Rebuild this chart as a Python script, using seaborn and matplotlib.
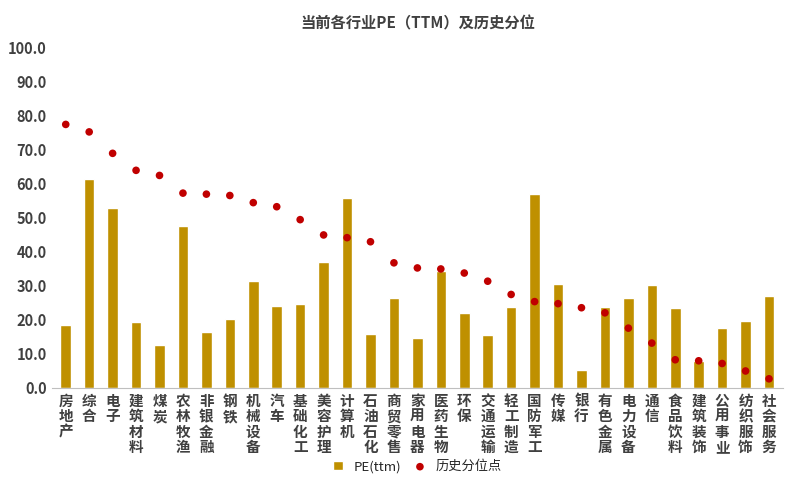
import matplotlib
matplotlib.use("Agg")
import matplotlib.pyplot as plt
import seaborn as sns
import pandas as pd

industries = ["房地产", "综合", "电子", "建筑材料", "煤炭", "农林牧渔", "非银金融", "钢铁",
              "机械设备", "汽车", "基础化工", "美容护理", "计算机", "石油石化", "商贸零售",
              "家用电器", "医药生物", "环保", "交通运输", "轻工制造", "国防军工", "传媒",
              "银行", "有色金属", "电力设备", "通信", "食品饮料", "建筑装饰", "公用事业",
              "纺织服饰", "社会服务"]
pe_ttm = [18.5, 61.5, 53.0, 19.3, 12.5, 47.7, 16.6, 20.2, 31.4, 24.0, 24.7, 37.0, 56.0,
          16.0, 26.5, 14.8, 34.3, 22.1, 15.7, 23.8, 57.0, 30.7, 5.3, 23.7, 26.4, 30.2,
          23.4, 8.0, 17.5, 19.6, 27.0]
hist_pct = [77.5, 75.3, 69.0, 64.0, 62.5, 57.3, 57.0, 56.6, 54.5, 53.3, 49.5, 45.0, 44.2,
            43.0, 36.8, 35.3, 35.0, 33.8, 31.4, 27.5, 25.4, 24.8, 23.6, 22.1, 17.6, 13.2,
            8.3, 8.0, 7.2, 5.0, 2.7]

df = pd.DataFrame({"industry": industries, "pe": pe_ttm, "pct": hist_pct})

sns.set_style("white")
plt.rcParams["font.family"] = ["Noto Sans CJK SC", "DejaVu Sans"]

fig, ax = plt.subplots(figsize=(7.95, 4.79), dpi=100)
sns.barplot(data=df, x="industry", y="pe", color="#BF9000", saturation=1,
            width=0.45, ax=ax, label="PE(ttm)")
sns.scatterplot(x=range(len(industries)), y=df["pct"], color="#C00000", s=30,
                edgecolor="none", ax=ax, label="历史分位点", zorder=3)

ax.set_ylim(0, 100)
ax.set_yticks(range(0, 101, 10))
ax.set_yticklabels([f"{v:.1f}" for v in range(0, 101, 10)], fontsize=10.5,
                   fontweight="bold", color="#404040")
ax.set_xticks(range(len(industries)))
ax.set_xticklabels(["\n".join(n) for n in industries], fontsize=10.5,
                   fontweight="bold", color="#404040", linespacing=0.95, va="top")
ax.set_xlim(-0.6, len(industries) - 0.4)
ax.set_xlabel("")
ax.set_ylabel("")
ax.tick_params(length=0)
for s in ["top", "right", "left"]:
    ax.spines[s].set_visible(False)
ax.spines["bottom"].set_color("#BFBFBF")

ax.set_title("当前各行业PE（TTM）及历史分位", fontsize=11, fontweight="bold",
             color="#404040", pad=14)
handles, labels = ax.get_legend_handles_labels()
order = [labels.index("PE(ttm)"), labels.index("历史分位点")]
ax.legend([handles[i] for i in order], [labels[i] for i in order],
          loc="upper center", bbox_to_anchor=(0.5, -0.185), ncol=2, frameon=False,
          fontsize=9.5, handlelength=0.8, columnspacing=1.0, borderpad=0.2)

plt.subplots_adjust(left=0.065, right=0.985, top=0.9, bottom=0.19)
plt.savefig("out.png", dpi=100)
